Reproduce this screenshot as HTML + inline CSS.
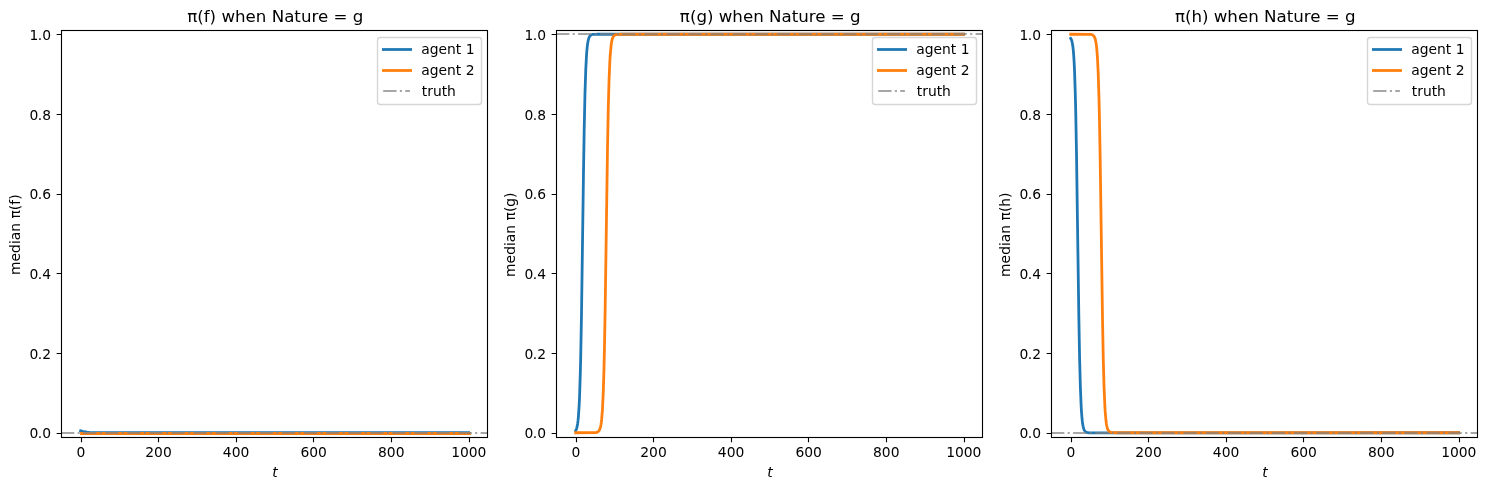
<!DOCTYPE html><html><head><meta charset="utf-8"><title>median beliefs</title>
<style>html,body{margin:0;padding:0;background:#fff;width:1487px;height:490px;overflow:hidden}svg{display:block;will-change:transform}text{font-family:'DejaVu Sans', 'Liberation Sans', sans-serif;fill:#000}</style></head><body>
<svg width="1487" height="490" viewBox="0 0 1487 490">
<rect width="1487" height="490" fill="#fff"/>
<g>
<clipPath id="c0"><rect x="61" y="30" width="427" height="408"/></clipPath>
<g clip-path="url(#c0)" fill="none" stroke-linejoin="round">
<polyline points="80.68,430.77 82.62,431.33 84.56,431.74 86.89,432.07 89.21,432.3 95.42,432.6 105.12,432.73 468.58,432.76" stroke="#1f77b4" stroke-width="2.78" stroke-linecap="square"/>
<polyline points="81.5,433.5 469.5,433.5" stroke="#ff7f0e" stroke-width="2.78" stroke-linecap="square"/>
<line x1="61" y1="433" x2="487" y2="433" stroke="#808080" stroke-opacity="0.7" stroke-width="2.083" stroke-dasharray="13.3333 3.3333 2.0833 3.3333"/>
</g>
<path d="M81.5 437.5v4.86M158.5 437.5v4.86M236.5 437.5v4.86M313.5 437.5v4.86M391.5 437.5v4.86M469.5 437.5v4.86M61.5 433.5h-4.86M61.5 353.5h-4.86M61.5 273.5h-4.86M61.5 194.5h-4.86M61.5 114.5h-4.86M61.5 34.5h-4.86" stroke="#000" stroke-width="1.11" fill="none"/>
<rect x="61.5" y="30.5" width="426" height="407" fill="none" stroke="#000" stroke-width="1.11" stroke-linejoin="miter"/>
<text x="80.91" y="457" font-size="13.89" text-anchor="middle">0</text>
<text x="158.49" y="457" font-size="13.89" text-anchor="middle">200</text>
<text x="236.07" y="457" font-size="13.89" text-anchor="middle">400</text>
<text x="313.65" y="457" font-size="13.89" text-anchor="middle">600</text>
<text x="391.23" y="457" font-size="13.89" text-anchor="middle">800</text>
<text x="468.81" y="457" font-size="13.89" text-anchor="middle">1000</text>
<text x="51" y="438" font-size="13.89" text-anchor="end">0<tspan dx="-0.7">.0</tspan></text>
<text x="51" y="359" font-size="13.89" text-anchor="end">0<tspan dx="-0.7">.2</tspan></text>
<text x="51" y="279" font-size="13.89" text-anchor="end">0<tspan dx="-0.7">.4</tspan></text>
<text x="51" y="199" font-size="13.89" text-anchor="end">0<tspan dx="-0.7">.6</tspan></text>
<text x="51" y="120" font-size="13.89" text-anchor="end">0<tspan dx="-0.7">.8</tspan></text>
<text x="51" y="40" font-size="13.89" text-anchor="end">1<tspan dx="-0.7">.0</tspan></text>
<text x="272.18" y="477" font-size="13.89" font-style="italic">t</text>
<text transform="translate(19.55 234.69) rotate(-90)" font-size="13.89" text-anchor="middle">median π(f)</text>
<text x="275.26" y="22" font-size="16.67" text-anchor="middle">π(f) when Nature = g</text>
<rect x="377.5" y="37.5" width="104" height="67" rx="2.78" fill="#fff" fill-opacity="0.8" stroke="#ccc" stroke-opacity="0.8" stroke-width="1.39"/>
<path d="M383.39 49.5H410.61" stroke="#1f77b4" stroke-width="2.78" stroke-linecap="square"/>
<path d="M383.39 70.5H410.61" stroke="#ff7f0e" stroke-width="2.78" stroke-linecap="square"/>
<path d="M383.2 91H409.9" stroke="#808080" stroke-opacity="0.7" stroke-width="2.083" stroke-dasharray="13.3333 3.3333 2.0833 3.3333"/>
<text x="421.24" y="54" font-size="13.89">agent 1</text>
<text x="421.24" y="75" font-size="13.89">agent 2</text>
<text x="421.74" y="96" font-size="13.89">truth</text>
</g>
<g>
<clipPath id="c1"><rect x="556" y="30" width="427" height="408"/></clipPath>
<g clip-path="url(#c1)" fill="none" stroke-linejoin="round">
<polyline points="575.68,430.59 576.07,429.86 576.46,428.9 576.84,427.61 577.23,425.91 577.62,423.66 578.01,420.7 578.4,416.8 579.17,405.13 579.56,396.69 580.33,372.63 580.72,356.29 581.5,314.1 583.44,176.26 584.21,128.57 584.99,93.22 585.77,69.58 586.54,54.84 586.93,49.87 587.32,46.06 587.7,43.15 588.09,40.95 588.48,39.29 588.87,38.04 589.64,36.38 590.42,35.45 590.81,35.15 591.58,34.76 592.75,34.47 594.69,34.31 597.79,34.26 963.58,34.26" stroke="#1f77b4" stroke-width="2.78" stroke-linecap="square"/>
<polyline points="575.68,432.76 593.52,432.72 595.85,432.56 596.63,432.41 597.4,432.14 598.18,431.67 598.95,430.84 599.73,429.39 600.12,428.3 600.51,426.86 600.89,424.97 601.28,422.48 601.67,419.23 602.45,409.52 603.22,393.55 604,368.49 604.38,351.72 605.16,309.12 607.49,149.38 608.26,108.91 609.04,80.36 609.82,61.8 610.2,55.36 610.98,46.52 611.37,43.56 611.75,41.31 612.14,39.59 612.53,38.29 612.92,37.3 613.31,36.56 614.08,35.57 614.47,35.25 615.25,34.82 616.41,34.5 618.35,34.32 621.84,34.26 963.58,34.26" stroke="#ff7f0e" stroke-width="2.78" stroke-linecap="square"/>
<line x1="556" y1="34" x2="982" y2="34" stroke="#808080" stroke-opacity="0.7" stroke-width="2.083" stroke-dasharray="13.3333 3.3333 2.0833 3.3333"/>
</g>
<path d="M576.5 437.5v4.86M653.5 437.5v4.86M731.5 437.5v4.86M808.5 437.5v4.86M886.5 437.5v4.86M964.5 437.5v4.86M556.5 433.5h-4.86M556.5 353.5h-4.86M556.5 273.5h-4.86M556.5 194.5h-4.86M556.5 114.5h-4.86M556.5 34.5h-4.86" stroke="#000" stroke-width="1.11" fill="none"/>
<rect x="556.5" y="30.5" width="426" height="407" fill="none" stroke="#000" stroke-width="1.11" stroke-linejoin="miter"/>
<text x="575.91" y="457" font-size="13.89" text-anchor="middle">0</text>
<text x="653.49" y="457" font-size="13.89" text-anchor="middle">200</text>
<text x="731.07" y="457" font-size="13.89" text-anchor="middle">400</text>
<text x="808.65" y="457" font-size="13.89" text-anchor="middle">600</text>
<text x="886.23" y="457" font-size="13.89" text-anchor="middle">800</text>
<text x="963.81" y="457" font-size="13.89" text-anchor="middle">1000</text>
<text x="546" y="438" font-size="13.89" text-anchor="end">0<tspan dx="-0.7">.0</tspan></text>
<text x="546" y="359" font-size="13.89" text-anchor="end">0<tspan dx="-0.7">.2</tspan></text>
<text x="546" y="279" font-size="13.89" text-anchor="end">0<tspan dx="-0.7">.4</tspan></text>
<text x="546" y="199" font-size="13.89" text-anchor="end">0<tspan dx="-0.7">.6</tspan></text>
<text x="546" y="120" font-size="13.89" text-anchor="end">0<tspan dx="-0.7">.8</tspan></text>
<text x="546" y="40" font-size="13.89" text-anchor="end">1<tspan dx="-0.7">.0</tspan></text>
<text x="767.18" y="477" font-size="13.89" font-style="italic">t</text>
<text transform="translate(514.55 234.69) rotate(-90)" font-size="13.89" text-anchor="middle">median π(g)</text>
<text x="770.26" y="22" font-size="16.67" text-anchor="middle">π(g) when Nature = g</text>
<rect x="872.5" y="37.5" width="104" height="67" rx="2.78" fill="#fff" fill-opacity="0.8" stroke="#ccc" stroke-opacity="0.8" stroke-width="1.39"/>
<path d="M878.39 49.5H905.61" stroke="#1f77b4" stroke-width="2.78" stroke-linecap="square"/>
<path d="M878.39 70.5H905.61" stroke="#ff7f0e" stroke-width="2.78" stroke-linecap="square"/>
<path d="M878.2 91H904.9" stroke="#808080" stroke-opacity="0.7" stroke-width="2.083" stroke-dasharray="13.3333 3.3333 2.0833 3.3333"/>
<text x="916.24" y="54" font-size="13.89">agent 1</text>
<text x="916.24" y="75" font-size="13.89">agent 2</text>
<text x="916.74" y="96" font-size="13.89">truth</text>
</g>
<g>
<clipPath id="c2"><rect x="1051" y="30" width="427" height="408"/></clipPath>
<g clip-path="url(#c2)" fill="none" stroke-linejoin="round">
<polyline points="1070.68,38.43 1071.07,39.02 1071.46,39.87 1071.84,41.04 1072.23,42.63 1072.62,44.79 1073.01,47.66 1073.4,51.47 1073.78,56.47 1074.17,62.98 1074.56,71.36 1075.33,95.29 1075.72,111.57 1076.5,153.65 1078.83,316.52 1079.6,358.14 1080.38,387.31 1081.15,406.05 1081.54,412.48 1081.93,417.44 1082.32,421.23 1082.7,424.12 1083.09,426.3 1083.48,427.95 1083.87,429.19 1084.26,430.12 1085.03,431.34 1085.81,432.01 1086.97,432.51 1088.52,432.74 1090.85,432.8 1458.58,432.76" stroke="#1f77b4" stroke-width="2.78" stroke-linecap="square"/>
<polyline points="1070.68,34.26 1088.52,34.3 1090.85,34.46 1091.63,34.61 1092.4,34.88 1093.18,35.35 1093.95,36.18 1094.73,37.63 1095.12,38.72 1095.51,40.16 1095.89,42.05 1096.28,44.54 1096.67,47.79 1097.45,57.5 1098.22,73.47 1099,98.53 1099.38,115.3 1100.16,157.9 1102.49,317.64 1103.26,358.11 1104.04,386.66 1104.82,405.22 1105.2,411.66 1105.98,420.5 1106.37,423.46 1106.75,425.71 1107.14,427.43 1107.53,428.73 1107.92,429.72 1108.31,430.46 1109.08,431.45 1109.47,431.77 1110.25,432.2 1111.41,432.52 1113.35,432.7 1116.84,432.76 1458.58,432.76" stroke="#ff7f0e" stroke-width="2.78" stroke-linecap="square"/>
<line x1="1051" y1="433" x2="1477" y2="433" stroke="#808080" stroke-opacity="0.7" stroke-width="2.083" stroke-dasharray="13.3333 3.3333 2.0833 3.3333"/>
</g>
<path d="M1071.5 437.5v4.86M1148.5 437.5v4.86M1226.5 437.5v4.86M1303.5 437.5v4.86M1381.5 437.5v4.86M1459.5 437.5v4.86M1051.5 433.5h-4.86M1051.5 353.5h-4.86M1051.5 273.5h-4.86M1051.5 194.5h-4.86M1051.5 114.5h-4.86M1051.5 34.5h-4.86" stroke="#000" stroke-width="1.11" fill="none"/>
<rect x="1051.5" y="30.5" width="426" height="407" fill="none" stroke="#000" stroke-width="1.11" stroke-linejoin="miter"/>
<text x="1070.91" y="457" font-size="13.89" text-anchor="middle">0</text>
<text x="1148.49" y="457" font-size="13.89" text-anchor="middle">200</text>
<text x="1226.07" y="457" font-size="13.89" text-anchor="middle">400</text>
<text x="1303.65" y="457" font-size="13.89" text-anchor="middle">600</text>
<text x="1381.23" y="457" font-size="13.89" text-anchor="middle">800</text>
<text x="1458.81" y="457" font-size="13.89" text-anchor="middle">1000</text>
<text x="1041" y="438" font-size="13.89" text-anchor="end">0<tspan dx="-0.7">.0</tspan></text>
<text x="1041" y="359" font-size="13.89" text-anchor="end">0<tspan dx="-0.7">.2</tspan></text>
<text x="1041" y="279" font-size="13.89" text-anchor="end">0<tspan dx="-0.7">.4</tspan></text>
<text x="1041" y="199" font-size="13.89" text-anchor="end">0<tspan dx="-0.7">.6</tspan></text>
<text x="1041" y="120" font-size="13.89" text-anchor="end">0<tspan dx="-0.7">.8</tspan></text>
<text x="1041" y="40" font-size="13.89" text-anchor="end">1<tspan dx="-0.7">.0</tspan></text>
<text x="1262.18" y="477" font-size="13.89" font-style="italic">t</text>
<text transform="translate(1009.55 234.69) rotate(-90)" font-size="13.89" text-anchor="middle">median π(h)</text>
<text x="1265.26" y="22" font-size="16.67" text-anchor="middle">π(h) when Nature = g</text>
<rect x="1367.5" y="37.5" width="104" height="67" rx="2.78" fill="#fff" fill-opacity="0.8" stroke="#ccc" stroke-opacity="0.8" stroke-width="1.39"/>
<path d="M1373.39 49.5H1400.61" stroke="#1f77b4" stroke-width="2.78" stroke-linecap="square"/>
<path d="M1373.39 70.5H1400.61" stroke="#ff7f0e" stroke-width="2.78" stroke-linecap="square"/>
<path d="M1373.2 91H1399.9" stroke="#808080" stroke-opacity="0.7" stroke-width="2.083" stroke-dasharray="13.3333 3.3333 2.0833 3.3333"/>
<text x="1411.24" y="54" font-size="13.89">agent 1</text>
<text x="1411.24" y="75" font-size="13.89">agent 2</text>
<text x="1411.74" y="96" font-size="13.89">truth</text>
</g>
</svg></body></html>
